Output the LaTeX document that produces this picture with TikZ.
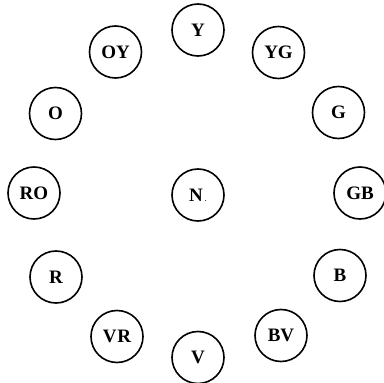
\documentclass[tikz,border=0pt]{standalone}
\usepackage{fontspec}
\setmainfont{Liberation Serif}
\begin{document}
\begin{tikzpicture}[x=1pt,y=-1pt,
  hue/.style={circle,draw=black,line width=1.6pt,minimum size=52pt,inner sep=0pt,
    font=\fontsize{19}{19}\selectfont\bfseries}]
\useasboundingbox (0,0) rectangle (384,383);
\fill[white] (0,0) rectangle (384,383);
\node[hue] (Y)  at (198,30)    {Y};
\node[hue] (YG) at (278.5,52.5){YG};
\node[hue] (G)  at (338.5,112.5){G};
\node[hue] (GB) at (360,193)   {GB};
\node[hue] (B)  at (340,275.5) {B};
\node[hue] (BV) at (281,335.5) {BV};
\node[hue] (V)  at (198,357.5) {V};
\node[hue] (VR) at (117,336.5) {V\kern1pt R};
\node[hue] (R)  at (56,277)    {R};
\node[hue] (RO) at (34,193)    {RO};
\node[hue] (O)  at (55.5,113.5){O};
\node[hue] (OY) at (115.5,52)  {OY};
\node[hue] (N)  at (198,195)   {N\kern2pt{\normalfont\small.}};
\end{tikzpicture}
\end{document}
